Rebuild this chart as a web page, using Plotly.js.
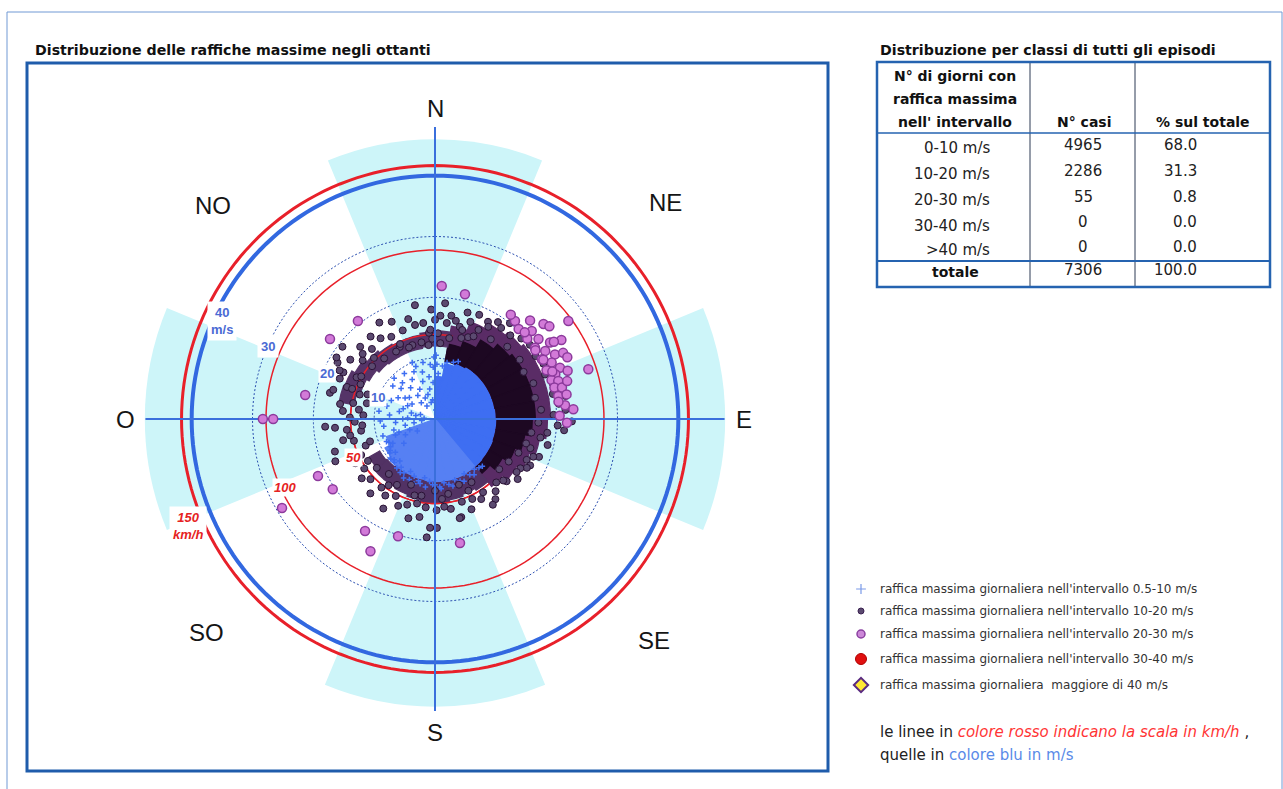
<!DOCTYPE html>
<html><head><meta charset="utf-8">
<script src="https://cdn.plot.ly/plotly-3.0.1.min.js"></script>
<style>html,body{margin:0;padding:0;background:#fff;}#chart{width:1283px;height:789px;}</style>
</head><body><div id="chart"></div>
<script>
// ---------------- DATA ----------------
const dirLabels = ['N','NE','E','SE','S','SO','O','NO'];
// background octant wedges (cardinal sectors)
const octTheta = [0, 90, 180, 270];
const octR = [46, 47.7, 47.3, 47.7];
// scale rings
const msRings = [10, 20, 30];
const msOuter = 40;
const kmhRings = [50, 100];
const kmhOuter = 150;
// saturated blue core (0.5-10 m/s, overlapping points) per 10° bin
const coreTheta = [5,15,25,35,45,55,65,75,85,95,105,115,125,135];
const coreR     = [7,9.2,9.8,10,10,10.2,10.2,10.2,10.2,10.2,10.2,10.2,10.3,10.3];
// semi-dense blue (speckled) per 10° bin
const semiTheta = [145,155,165,175,185,195,205,215,225,235,245];
const semiR     = [10.5,10.5,10.8,11,11,10.8,10.5,10.3,10,9.5,8.5];
// overlapping 10-20 m/s points: NE-E dense region
const neTheta = [15,25,35,45,55,65,75,85,95,105,115,125,135];
const neBase  = [9.6,9.8,10,10,10,10,10,10.1,10.2,10.2,10.3,10.3,10.4];
const neDark  = [12.5,13.5,15,16,16.5,16.5,16.5,16.5,16,15,14,12.8,11.8];
const neOuter = [15.5,17,18,18.5,19,19,19,19,18.5,17.5,16.5,15.5,14.5];
// overlapping 10-20 m/s points: S band
const sTheta = [145,155,165,175,185,195,205,215,225,235];
const sBase  = [10.4,10.5,10.5,10.5,10.4,10.3,10.2,10.2,10.3,10.5];
const sOuter = [13.5,13.2,13.5,13.8,13.8,13.5,13.2,13,13,12.5];
// overlapping 10-20 m/s points: NW band
const nwTheta = [285,295,305,315,325,335,345,355,5];
const nwBase  = [13.5,13,12.5,12,11.8,11.8,11.8,12,12];
const nwOuter = [16,15.8,15.2,14.6,14.2,14,14,14.3,14.5];

// individual points [direction deg, gust m/s]
const bluePts = [
 [300,7],[303,4.5],[305,6],[308,8.8],[310,5.5],[312,7.5],[315,9.5],[318,8],[320,3.5],[322,6.5],[324,4.8],[326,9],[328,2.5],[330,7.5],[333,5.5],[335,3.8],[336,8.5],[338,10],[340,9.2],[342,6.5],[344,4.2],[345,8],[347,2.8],[348,9.5],[350,5],[352,7],[353,3.2],[355,9],[357,6],[358,8.5],[359,10.2],
 [2,9],[3,3],[4,7.5],[6,5],[8,8.8],[10,6.5],[5,1.5],[1,10.5],[12,9.5],[14,8.7],[18,9.8],[22,10.2],
 [252,9],[255,7],[258,5],[260,3.5],[262,8.5],[264,2.2],[265,6.5],[268,9],[270,5.3],[272,4.5],[274,1.8],[275,7.5],[278,9.3],[280,3.2],[282,6],[284,4],[285,8.2],[287,2.5],[288,5.5],[290,9],[293,7.8],[296,5],
 [182,10.8],[185,10.3],[188,11.3],[190,9.8],[193,10.9],[195,10.5],[198,11.2],[200,10],[203,10.8],[205,9.5],[208,11],[210,10.2],[213,10.5],[215,9.7],[218,10.2],[220,9],[223,9.8],[225,9.5],[228,9.8],[230,8.5],[233,9.3],[235,9],[238,8.6],[240,8],[243,8.5],[245,8.8],[248,7],[250,6.3],[247,4.5],[242,5.5],[236,3.5],[232,6.5],
 [142,10.5],[145,11.2],[148,10.8],[152,10.2],[155,11.3],[158,11],[162,10.5],[165,11.4],[168,11],[172,10.6],[175,11.5],[176,11.2],[180,10.8],[138,10.8],[135,11]
];
const purplePts = [
 [2,14.1],[5,19.1],[7,15.9],[9,17.2],[12,16.5],[15,15.7],[17,18.3],[17,15.3],[20,17],[23,18.6],[26,16.3],[28.6,18.2],[33,19],[30,17.5],[36,18.5],[38,20],[3,17],[0,16.3],[358,18],[356,14.2],[10,13.5],[4,12.5],[22,14.5],
 [42,18.5],[47,19.4],[52,19.8],[58,19.5],[63,20],[68,19.5],[73,20.2],[78,19.8],[83,20.5],[88,19.5],[93,20.2],[97,18.6],[100,17.6],[103,19],[107,16.4],[110,18.2],[111,17.3],[114,16.5],[116,17.4],[118,17.1],[120,16.2],[123,16],[126,16.8],[131,15.6],[132,15.1],[136,14.5],[140,15.5],[86,21.5],[91,22.5],[95,21.3],[80,21.8],[75,21.5],
 [143,16.5],[146,17],[146.7,14.4],[150,15.2],[155,14.5],[158,16],[162,14.3],[165,16.7],[166,16.8],[170,15],[174,14.5],[179,15],[179,17.9],[182.6,17.9],[184,19.5],[186,14.6],[189,16.3],[192,14.2],[195,16.9],[198,14.8],[203,15.5],[207,14.2],[210,17],[213,15],[218,14.3],[221,16.2],[227,14.5],[231,15.5],[235,14.2],
 [238,13],[241,15],[244,13.5],[247,17.8],[249,12.2],[251,11.3],[252,17.3],[255,13.8],[257,15.5],[259,14.2],[261,12.3],[263,14.6],[265,12],[265,16.5],[266,18.1],[268,13.2],[271,14],[273,11.8],[275,15.2],[277,12.6],[279,15.8],[281,13.7],[283,11.5],[284,17.8],[286,17.4],[288,13],[290,15.4],[290,11.8],
 [293,17],[297,16.9],[297,17.6],[298,14.6],[300,18.5],[302,19.1],[305,17],[308,19.3],[309,15.3],[312,16],[314,17.1],[318,15.5],[322,17.2],[326,16],[330,18.3],[332,15.3],[334,13.2],[336,17.5],[340,15.5],[343,12.7],[345,17],[348,15.8],[350,19],[353,15.9],[357,14.7],
 [35,16],[45,16.8],[55,17],[62,16.5],[70,17.2],[78,16.8],[85,17.5],[92,17],[98,16],[105,15.5],[112,14.8],[120,14],[128,13.4],[25,15],[18,14],
 [150,12],[160,11.5],[170,12.5],[180,11.8],[190,12.8],[200,11.5],[210,12.5],[220,11.8],[230,12.5],[155,13],[175,13.2],[195,13],[215,13.3],
 [290,14.5],[300,14],[310,13.5],[320,13],[330,12.8],[340,12.5],[350,12.8],[358,13.2],[295,13.5],[315,14.2],[335,13.6],[355,12.2]
];
const pinkPts = [
 [39.2,20.8],[48.8,23.7],[47.7,21.5],[42.9,20.2],[52.3,21.5],[56.4,22.7],[49,20.1],[54.5,20.2],[58.3,21.3],[61.7,22.4],[62.7,23.7],[55.6,20],[60.8,20.1],[64.2,21.3],[67.7,22.2],[61.3,20.3],[66.4,20],[69.6,21.1],[71.5,20.2],[72.9,21.2],[75.2,20.3],[76.1,21.5],[79.4,20.6],[79.4,22],[53.7,27.2],[72,26.5],[91.6,21.7],[84,21.5],[13.5,21.1],[2.9,21.9],
 [44,22.5],[51,24.2],[58,24.5],[65,24],[70,23.2],[74,22.6],[82,20.5],[86,22.8],[46,20.5],[57,23.3],[68,20.8],[88.5,20.5],[36,21.2],
 [321.8,20.5],[307.3,21.7],[280.5,21.7],[270,28.3],[270,26.6],
 [244,21.4],[235.5,20.4],[239.8,29.1],[212,21.7],[206,24.2],[197.5,20.2],[168.6,20.8]
];
// table
const classLabels = ['0-10 m/s','10-20 m/s','20-30 m/s','30-40 m/s','&gt;40 m/s'];
const nCasi = [4965, 2286, 55, 0, 0];
const pctTot = ['68.0','31.3','0.8','0.0','0.0'];
const totCasi = 7306, totPct = '100.0';
// legend
const legendLabels = [
 "raffica massima giornaliera nell'intervallo 0.5-10 m/s",
 "raffica massima giornaliera nell'intervallo 10-20 m/s",
 "raffica massima giornaliera nell'intervallo 20-30 m/s",
 "raffica massima giornaliera nell'intervallo 30-40 m/s",
 "raffica massima giornaliera  maggiore di 40 m/s"
];

// ---------------- LAYOUT HELPERS ----------------
const W=1283, H=789, CX=435, CY=419, RPX=292, RMAX=48;
const FONT = 'Liberation Sans, Arial, sans-serif';
const TFONT = 'DejaVu Sans, Liberation Sans, sans-serif';
const dom = {x:[(CX-RPX)/W,(CX+RPX)/W], y:[(H-CY-RPX)/H,(H-CY+RPX)/H]};
const ringT = []; for (let a=0;a<=360;a+=2) ringT.push(a);
const arcT = []; for (let a=140;a<=372;a+=2) arcT.push(a);
function ring(r, color, width, dash, sp, th){
  const t = th||ringT;
  return {type:'scatterpolar', subplot:sp, mode:'lines', r:t.map(()=>r), theta:t,
    line:{color:color,width:width,dash:dash||'solid'}, hoverinfo:'skip', showlegend:false};
}
function bars(theta, base, outer, color, sp){
  return {type:'barpolar', subplot:sp, theta:theta, r:outer.map((o,i)=>o-(base?base[i]:0)), base:base||undefined,
    width:theta.map(()=>10), marker:{color:color, line:{color:color,width:1.2}}, hoverinfo:'skip', showlegend:false};
}
const polarCfg = {
  domain:dom, bgcolor:'rgba(0,0,0,0)', barmode:'overlay', hole:0,
  radialaxis:{range:[0,RMAX], visible:false, showgrid:false},
  angularaxis:{rotation:90, direction:'clockwise', showgrid:false, showline:false, showticklabels:false, ticks:''}
};

const traces = [];
// polar 1: background wedges + scale rings
traces.push({type:'barpolar', subplot:'polar', theta:octTheta, r:octR, width:octTheta.map(()=>45),
  marker:{color:'#cdf5f9', line:{width:0}}, hoverinfo:'skip', showlegend:false});
msRings.forEach(r=>traces.push(ring(r,'#2b4fb0',1,'2px,2px','polar')));
kmhRings.forEach(k=>traces.push(ring(k/3.6,'#e8202a',1.5,'solid','polar')));
traces.push(ring(msOuter,'#3268e0',4,'solid','polar'));
traces.push(ring(kmhOuter/3.6,'#e8202a',3,'solid','polar'));

// polar 2: point cloud
traces.push(bars(coreTheta, null, coreR, '#3e6ef2', 'polar2'));
traces.push(bars(semiTheta, null, semiR, '#5680f3', 'polar2'));
traces.push(bars(neTheta, neBase, neOuter, '#5a2c66', 'polar2'));
traces.push(bars(neTheta, neBase, neDark, '#1d0822', 'polar2'));
traces.push(bars(sTheta, sBase, sOuter, '#523264', 'polar2'));
traces.push(bars(nwTheta, nwBase, nwOuter, '#553468', 'polar2'));
traces.push(ring(kmhRings[0]/3.6,'#e8202a',1.5,'solid','polar2',arcT));
traces.push({type:'scatterpolar', subplot:'polar2', mode:'markers', r:bluePts.map(p=>p[1]), theta:bluePts.map(p=>p[0]),
  marker:{symbol:'cross-thin-open', size:4, color:'#3e6ef2', line:{color:'#3e6ef2', width:1.5}}, hoverinfo:'skip', showlegend:false, cliponaxis:false});
traces.push({type:'scatterpolar', subplot:'polar2', mode:'markers', r:purplePts.map(p=>p[1]), theta:purplePts.map(p=>p[0]),
  marker:{symbol:'circle', size:7, color:'#5b4a70', line:{color:'#2b1236', width:1}}, hoverinfo:'skip', showlegend:false, cliponaxis:false});
// axis cross
traces.push({type:'scatterpolar', subplot:'polar2', mode:'lines', r:[RMAX,0,RMAX], theta:[0,0,180],
  line:{color:'#3a6fdc', width:2}, hoverinfo:'skip', showlegend:false});
traces.push({type:'scatterpolar', subplot:'polar2', mode:'lines', r:[47.6,0,47.6], theta:[90,90,270],
  line:{color:'#3a6fdc', width:2}, hoverinfo:'skip', showlegend:false});
traces.push({type:'scatterpolar', subplot:'polar2', mode:'markers', r:pinkPts.map(p=>p[1]), theta:pinkPts.map(p=>p[0]),
  marker:{symbol:'circle', size:9, color:'#d27ad8', line:{color:'#8c3a9c', width:1.5}}, hoverinfo:'skip', showlegend:false, cliponaxis:false});

// legend markers (pixel overlay axes)
const legY = [589, 611, 634, 659, 685];
const legSym = ['cross-thin-open','circle','circle','circle','diamond'];
const legSize = [7,6,8,11,11];
const legFill = ['#7a9ae8','#5b4a70','#cc88d8','#e01010','#ffe833'];
const legLine = ['#7a9ae8','#3a2050','#8a40a0','#b00000','#5a2a80'];
const legLW = [1.2,1,1.5,1,2];
legY.forEach((y,i)=>traces.push({type:'scatter', xaxis:'x', yaxis:'y', mode:'markers', x:[861], y:[y],
  marker:{symbol:legSym[i], size:legSize[i], color:legFill[i], opacity:1, line:{color:legLine[i], width:legLW[i]}},
  hoverinfo:'skip', showlegend:false, cliponaxis:false}));

// ---------------- ANNOTATIONS ----------------
const ann = [];
function A(x,y,text,o){ o=o||{}; ann.push(Object.assign({xref:'x',yref:'y',x:x,y:y,text:text,showarrow:false,
  xanchor:o.xa||'center', yanchor:'middle', font:{family:o.fam||TFONT,size:o.size||15,color:o.color||'#222'}},
  o.bg?{bgcolor:o.bg,borderpad:o.pad||1}:{})); }
// titles
A(33,50,'<b>Distribuzione delle raffiche massime negli ottanti</b>',{xa:'left',size:14.2,color:'#111'});
A(878,50,'<b>Distribuzione per classi di tutti gli episodi</b>',{xa:'left',size:14.2,color:'#111'});
// compass
const dirPos = [[435,108],[665,202],[744,419],[654,640],[435,732],[206,632],[125,419],[213,205]];
dirLabels.forEach((d,i)=>A(dirPos[i][0],dirPos[i][1],d,{size:24,color:'#151515',fam:FONT}));
// ring labels
const BL='#4a6ad4', RD='#e62222';
A(378,397,'<b>10</b>',{color:BL,bg:'#fff',fam:FONT,size:13});
A(327,373,'<b>20</b>',{color:BL,bg:'#fff',fam:FONT,size:13});
A(268,346,'<b>30</b>',{color:BL,bg:'#fff',pad:3,fam:FONT,size:13});
A(222,321,'<b>40<br>m/s</b>',{color:BL,bg:'#fff',pad:3,fam:FONT,size:13});
A(353,457,'<b><i>50</i></b>',{color:RD,bg:'#fff',fam:FONT,size:13});
A(285,487,'<b><i>100</i></b>',{color:RD,bg:'#fff',fam:FONT,size:13});
A(188,526,'<b><i>150<br>km/h</i></b>',{color:RD,bg:'#fff',pad:3,fam:FONT,size:13});
// table
A(955,76,'<b>N° di giorni con</b>',{color:'#111',size:14});
A(955,99,'<b>raffica massima</b>',{color:'#111',size:14});
A(955,122,'<b>nell\' intervallo</b>',{color:'#111',size:14});
A(1084,122,'<b>N° casi</b>',{color:'#111',size:14});
A(1203,122,'<b>% sul totale</b>',{color:'#111',size:14});
const rowLabY=[148,174,200,226,250], rowNumY=[145,171,197,222,247];
classLabels.forEach((c,i)=>{
  A(992,rowLabY[i],c,{xa:'right'});
  A(1083,rowNumY[i],String(nCasi[i]));
  A(1199,rowNumY[i],pctTot[i],{xa:'right'});
});
A(955,272,'<b>totale</b>',{color:'#111',size:14});
A(1083,270,String(totCasi));
A(1199,270,totPct,{xa:'right'});
// legend text
legendLabels.forEach((t,i)=>A(878,legY[i],t,{xa:'left',size:12,color:'#333'}));
A(878,732,'le linee in <span style="color:#ff3535"><i>colore rosso indicano la scala in km/h</i></span> ,',{xa:'left',size:15,color:'#222'});
A(878,755,'quelle in <span style="color:#5a8ae8">colore blu in m/s</span>',{xa:'left',size:15,color:'#222'});

// ---------------- SHAPES ----------------
const FR='#1f5cab';
const shapes = [
  {type:'rect',xref:'x',yref:'y',x0:7,y0:12,x1:1282,y1:790,line:{color:'#7099d4',width:1}},
  {type:'rect',xref:'x',yref:'y',x0:27,y0:63,x1:828,y1:771,line:{color:FR,width:3}},
  {type:'line',xref:'x',yref:'y',x0:1030,y0:62,x1:1030,y1:287,line:{color:'#2d3a55',width:1}},
  {type:'line',xref:'x',yref:'y',x0:1135,y0:62,x1:1135,y1:287,line:{color:'#2d3a55',width:1}},
  {type:'line',xref:'x',yref:'y',x0:877,y0:133,x1:1270,y1:133,line:{color:'#2563b0',width:1.5}},
  {type:'line',xref:'x',yref:'y',x0:877,y0:261,x1:1270,y1:261,line:{color:'#2563b0',width:2}},
  {type:'rect',xref:'x',yref:'y',x0:877,y0:62,x1:1270,y1:287,line:{color:'#2563b0',width:2.5}}
];

const layout = {
  width:W, height:H, margin:{l:0,r:0,t:0,b:0}, paper_bgcolor:'#fff', plot_bgcolor:'rgba(0,0,0,0)',
  showlegend:false, font:{family:FONT},
  xaxis:{range:[0,W], visible:false, fixedrange:true, domain:[0,1]},
  yaxis:{range:[H,0], visible:false, fixedrange:true, domain:[0,1]},
  polar: JSON.parse(JSON.stringify(polarCfg)),
  polar2: JSON.parse(JSON.stringify(polarCfg)),
  annotations:ann, shapes:shapes
};
Plotly.newPlot('chart', traces, layout, {staticPlot:true, displayModeBar:false});
</script></body></html>
